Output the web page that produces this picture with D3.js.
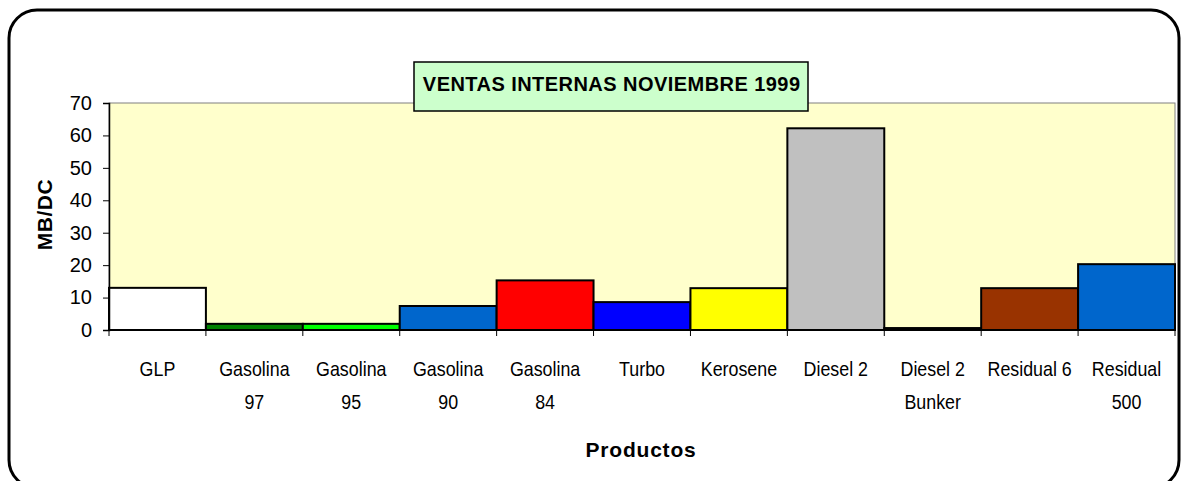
<!DOCTYPE html>
<html><head><meta charset="utf-8">
<script src="https://cdn.jsdelivr.net/npm/d3@7"></script>
<style>body{margin:0;background:#fff}svg{display:block}</style>
</head><body>
<svg id="c" width="1186" height="481"></svg>
<script>
const categories = ["GLP","Gasolina 97","Gasolina 95","Gasolina 90","Gasolina 84","Turbo","Kerosene","Diesel 2","Diesel 2 Bunker","Residual 6","Residual 500"];
const labelLines = [["GLP"],["Gasolina","97"],["Gasolina","95"],["Gasolina","90"],["Gasolina","84"],["Turbo"],["Kerosene"],["Diesel 2"],["Diesel 2","Bunker"],["Residual 6"],["Residual","500"]];
const values = [13.0, 1.9, 1.9, 7.4, 15.3, 8.6, 12.9, 62.2, 0.6, 12.9, 20.3];
const colors = ["#ffffff","#008000","#00ff00","#0066cc","#ff0000","#0000ff","#ffff00","#c0c0c0","#000000","#993300","#0066cc"];
const yTicks = [0,10,20,30,40,50,60,70];
const title = "VENTAS INTERNAS NOVIEMBRE 1999";

const FONT = "Arial, 'Liberation Sans', sans-serif";
const svg = d3.select("#c");
const m = {l:109, r:1175, t:103, b:330};
const x = d3.scaleBand().domain(categories).range([m.l, m.r]).padding(0);
const y = d3.scaleLinear().domain([0,70]).range([m.b, m.t]);

// outer rounded border
svg.append("rect").attr("x",9).attr("y",10).attr("width",1170).attr("height",478)
  .attr("rx",28).attr("ry",28).attr("fill","#fff").attr("stroke","#000").attr("stroke-width",3);

// plot area
svg.append("rect").attr("x",m.l).attr("y",m.t).attr("width",m.r-m.l).attr("height",m.b-m.t)
  .attr("fill","#ffffcc").attr("stroke","#808080").attr("stroke-width",1);

// bars
svg.selectAll(".bar").data(values).enter().append("rect")
  .attr("x",(d,i)=>x(categories[i])).attr("width",x.bandwidth())
  .attr("y",d=>y(d)).attr("height",d=>y(0)-y(d))
  .attr("fill",(d,i)=>colors[i]).attr("stroke","#000").attr("stroke-width",2);

// y axis
const ya = svg.append("g").attr("transform",`translate(${m.l},0)`)
  .call(d3.axisLeft(y).tickValues(yTicks).tickSize(6).tickPadding(11).tickFormat(d3.format("d")));
ya.select(".domain").attr("stroke","#000").attr("stroke-width",1.5);
ya.selectAll("line").attr("stroke","#000");
ya.selectAll("text").attr("font-family",FONT).attr("font-size",20).attr("fill","#000");

// x axis line and ticks
const xa = svg.append("g").attr("transform",`translate(0,${m.b})`);
xa.append("line").attr("x1",m.l).attr("x2",m.r).attr("stroke","#000").attr("stroke-width",1.5);
const bounds = categories.map(c=>x(c)).concat([m.r]);
xa.selectAll(".tk").data(bounds).enter().append("line")
  .attr("x1",d=>d).attr("x2",d=>d).attr("y1",0).attr("y2",6).attr("stroke","#000");

// x labels (condensed look via horizontal scale)
const lab = svg.append("g");
labelLines.forEach((lines,i)=>{
  lines.forEach((t,j)=>{
    const cx = x(categories[i])+x.bandwidth()/2, cy = 376+j*33;
    lab.append("text").attr("transform",`translate(${cx},${cy}) scale(0.85,1)`)
      .attr("text-anchor","middle").attr("font-family",FONT)
      .attr("font-size",21).attr("fill","#000").text(t);
  });
});

// axis titles
svg.append("text").attr("x",641).attr("y",457).attr("text-anchor","middle")
  .attr("font-family",FONT).attr("font-weight","bold").attr("font-size",21).attr("letter-spacing",0.8).text("Productos");
svg.append("text").attr("transform","translate(52,214.5) rotate(-90)").attr("text-anchor","middle")
  .attr("font-family",FONT).attr("font-weight","bold").attr("font-size",21).attr("letter-spacing",0.5).text("MB/DC");

// title box
svg.append("rect").attr("x",414).attr("y",62).attr("width",394).attr("height",49)
  .attr("fill","#ccffcc").attr("stroke","#000").attr("stroke-width",1.5);
svg.append("text").attr("x",611.7).attr("y",90.7).attr("text-anchor","middle")
  .attr("font-family",FONT).attr("font-weight","bold").attr("font-size",20)
  .attr("letter-spacing",0.45).text(title);
</script>
</body></html>
